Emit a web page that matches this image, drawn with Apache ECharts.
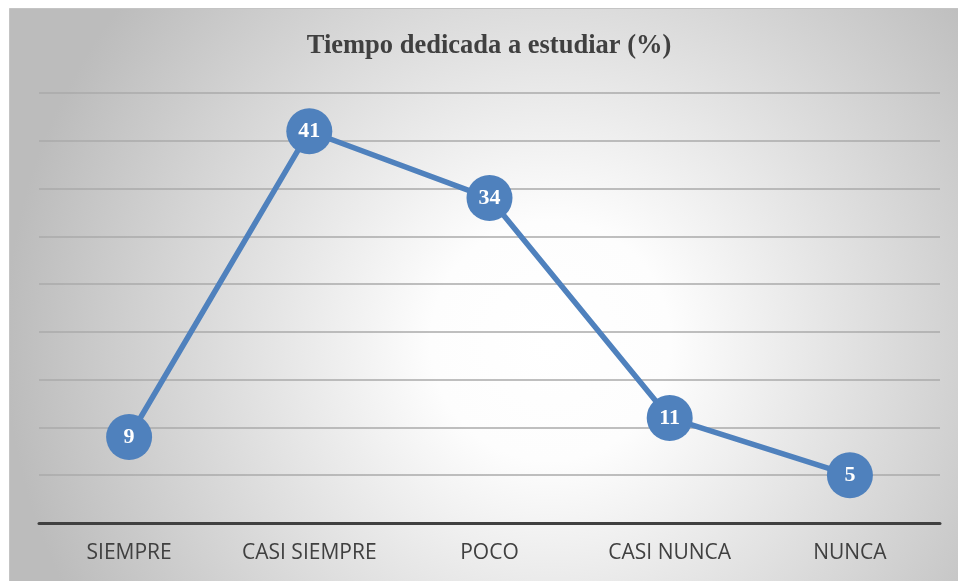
<!DOCTYPE html>
<html>
<head>
<meta charset="utf-8">
<script src="https://cdn.jsdelivr.net/npm/echarts@6/dist/echarts.min.js"></script>
<style>
    html, body { margin: 0; padding: 0; background: #fff; }
    #chart { width: 958px; height: 581px; }
</style>
</head>
<body>
<div id="chart"></div>
<script>
const categories = ['SIEMPRE', 'CASI SIEMPRE', 'POCO', 'CASI NUNCA', 'NUNCA']
const values = [9, 41, 34, 11, 5]
const titleText = 'Tiempo dedicada a estudiar (%)'

function draw() {
    const chart = echarts.init(document.getElementById('chart'))
    chart.setOption(getOptions())
}

function getOptions() {
    return {
        animation: false,
        graphic: [
            {
                // marco con degradado radial
                type: 'rect',
                left: 9,
                top: 8,
                z: -10,
                shape: { width: 949, height: 573 },
                style: {
                    fill: new echarts.graphic.RadialGradient(0.57, 0.58, 0.95, [
                        { offset: 0, color: '#ffffff' },
                        { offset: 0.22, color: '#fdfdfd' },
                        { offset: 1, color: '#bcbcbc' },
                    ]),
                    stroke: '#c4c4c4',
                    lineWidth: 1,
                },
            },
            {
                // título centrado sobre el área del gráfico
                type: 'text',
                x: 489,
                y: 46,
                style: {
                    text: titleText,
                    align: 'center',
                    verticalAlign: 'middle',
                    font: 'bold 26.5px "Liberation Serif"',
                    fill: '#404040',
                },
            },
        ],
        grid: {
            left: 39,
            right: 18,
            top: 93,
            bottom: 58,
        },
        xAxis: {
            type: 'category',
            data: categories,
            axisLine: { lineStyle: { color: '#404040', width: 3 } },
            axisTick: { show: false },
            axisLabel: {
                fontFamily: 'Open Sans',
                fontSize: 21,
                color: '#404040',
                margin: 20,
            },
        },
        yAxis: {
            type: 'value',
            min: 0,
            max: 45,
            interval: 5,
            axisLine: { show: false },
            axisTick: { show: false },
            axisLabel: { show: false },
            splitLine: { lineStyle: { color: '#aaaaaa', width: 1.5 } },
        },
        series: [
            {
                type: 'line',
                data: values,
                symbol: 'circle',
                symbolSize: 46,
                lineStyle: { color: '#4f81bd', width: 5.5 },
                itemStyle: { color: '#4f81bd' },
                label: {
                    show: true,
                    position: 'inside',
                    fontFamily: 'Liberation Serif',
                    fontWeight: 'bold',
                    fontSize: 22,
                    color: '#ffffff',
                },
            },
        ],
    }
}

draw()
</script>
</body>
</html>
